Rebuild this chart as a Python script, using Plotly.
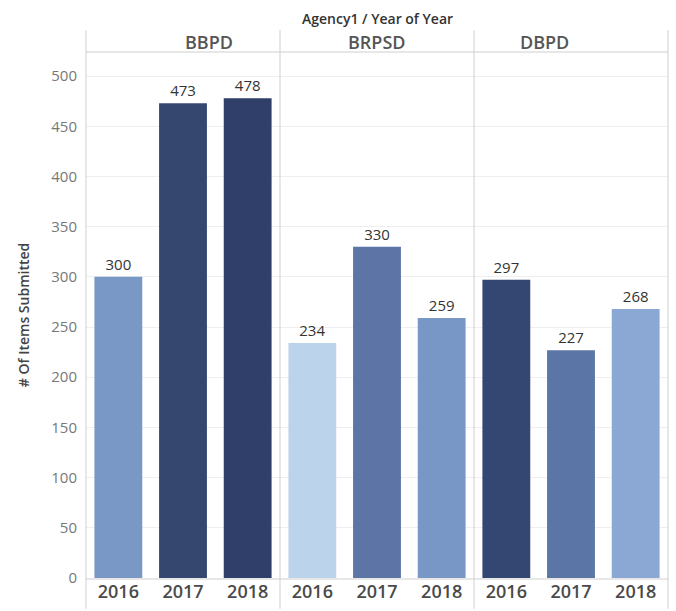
import plotly.graph_objects as go
from plotly.subplots import make_subplots

agencies = ["BBPD", "BRPSD", "DBPD"]
years = ["2016", "2017", "2018"]
values = {
    "BBPD": [300, 473, 478],
    "BRPSD": [234, 330, 259],
    "DBPD": [297, 227, 268],
}
colors = {
    "BBPD": ["#7a98c5", "#35476f", "#2f3f6a"],
    "BRPSD": ["#bcd3ec", "#5c74a6", "#7997c6"],
    "DBPD": ["#344672", "#5c75a7", "#8ba8d5"],
}
y_ticks = [0, 50, 100, 150, 200, 250, 300, 350, 400, 450, 500]

W, H = 676, 611
L, R, T, B = 86, 8, 52, 31
fig = make_subplots(rows=1, cols=3, shared_yaxes=True, horizontal_spacing=0)

for i, a in enumerate(agencies):
    fig.add_trace(go.Bar(
        x=years, y=values[a], marker=dict(color=colors[a], line=dict(width=0)),
        text=[str(v) for v in values[a]], textposition="outside",
        textfont=dict(family="Open Sans, Noto Sans, sans-serif", size=15, color="#333333"),
        cliponaxis=False, showlegend=False, hoverinfo="skip",
    ), row=1, col=i + 1)
    fig.update_xaxes(
        row=1, col=i + 1, showgrid=False, showline=False, zeroline=False,
        ticks="", tickfont=dict(family="Open Sans, sans-serif", size=18, color="#4a4a4a", weight=600),
        ticklabelstandoff=1,
    )

fig.update_yaxes(
    range=[0, 524], tickvals=y_ticks, ticktext=[str(v) for v in y_ticks],
    showgrid=True, gridcolor="#efefef", gridwidth=1, zeroline=False,
    showline=False, ticks="", ticklabelstandoff=8,
    tickfont=dict(family="Open Sans, sans-serif", size=15, color="#777777"),
)
fig.update_yaxes(row=1, col=1, title=dict(
    text="# Of Items Submitted", standoff=18,
    font=dict(family="Open Sans, sans-serif", size=14, color="#444444", weight=600)))

plot_h = H - T - B
plot_w = W - L - R


def py(p):
    return (H - B - p) / plot_h


def px(p):
    return (p - L) / plot_w


line_c = "#cfcfcf"
shapes = []
for xp in [L, L + plot_w / 3, L + 2 * plot_w / 3, W - R]:
    shapes.append(dict(type="line", xref="paper", yref="paper",
                       x0=px(xp), x1=px(xp), y0=py(30), y1=py(H),
                       line=dict(color=line_c, width=1)))
shapes.append(dict(type="line", xref="paper", yref="paper", x0=0, x1=1,
                   y0=1, y1=1, line=dict(color=line_c, width=1)))
shapes.append(dict(type="line", xref="paper", yref="paper", x0=0, x1=1,
                   y0=py(581), y1=py(581), line=dict(color=line_c, width=1)))

annotations = [dict(text="Agency1 / Year of Year", xref="paper", yref="paper",
                    x=0.5, y=py(18), showarrow=False, yanchor="middle",
                    font=dict(family="Open Sans, sans-serif", size=14, color="#333333", weight=600))]
for i, a in enumerate(agencies):
    annotations.append(dict(text=a, xref="paper", yref="paper",
                            x=(i + 0.5) / 3, y=py(42), showarrow=False, yanchor="middle",
                            font=dict(family="Open Sans, sans-serif", size=18, color="#555555", weight=600)))

fig.update_layout(
    width=W, height=H, margin=dict(l=L, r=R, t=T, b=B),
    paper_bgcolor="white", plot_bgcolor="white",
    bargap=0.26, shapes=shapes, annotations=annotations,
)

fig.write_html("out.html")
